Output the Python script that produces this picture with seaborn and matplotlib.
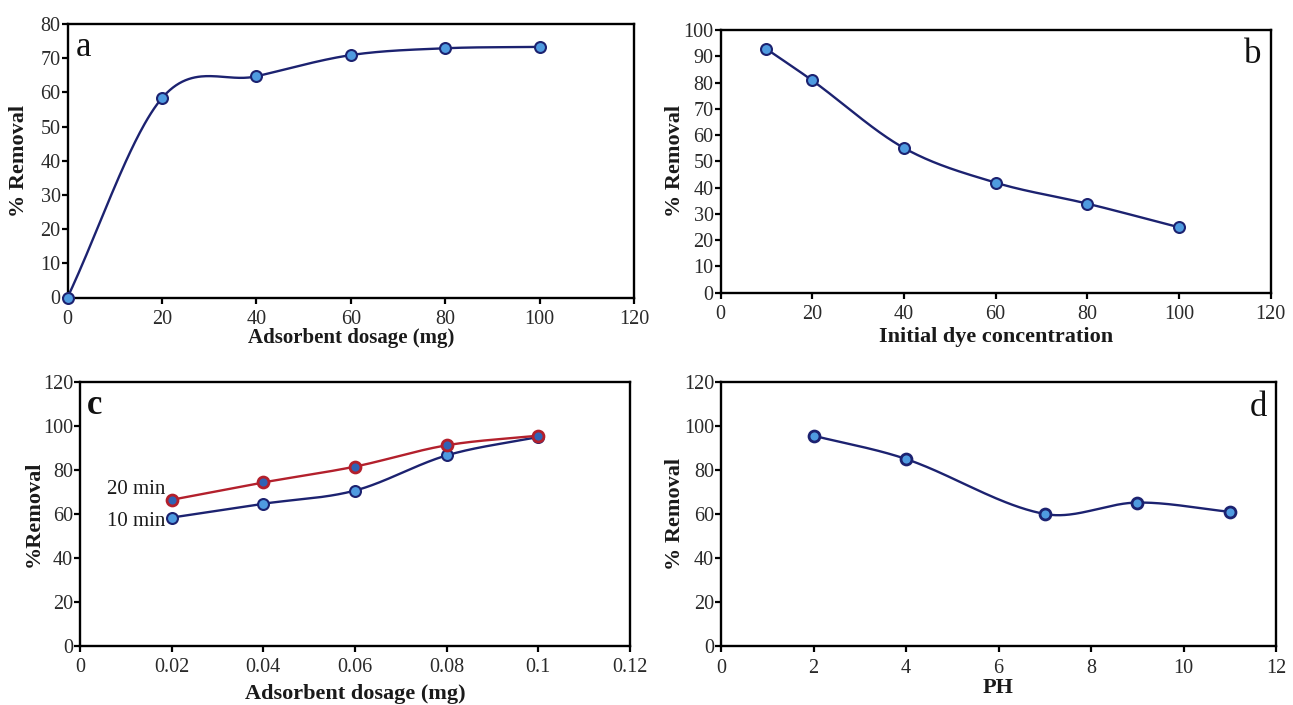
import numpy as np
import pandas as pd
import matplotlib
matplotlib.use("Agg")
import matplotlib.pyplot as plt
import matplotlib.transforms as mtrans
import seaborn as sns

# ---- data ----
a_dose = [0, 20, 40, 60, 80, 100]
a_removal = [0, 58.3, 64.7, 70.9, 72.9, 73.3]

b_conc = [10, 20, 40, 60, 80, 100]
b_removal = [92.8, 80.8, 55.1, 41.9, 33.9, 24.9]

c_dose = [0.02, 0.04, 0.06, 0.08, 0.1]
c_10min = [58.3, 64.6, 70.6, 86.6, 95.0]
c_20min = [66.4, 74.3, 81.5, 91.2, 95.6]

d_ph = [2, 4, 7, 9, 11]
d_removal = [95.6, 85.0, 60.0, 65.2, 61.0]

sns.set_style("ticks")
plt.rcParams['font.family'] = ['Liberation Serif', 'DejaVu Serif']
plt.rcParams['xtick.color'] = 'black'
plt.rcParams['ytick.color'] = 'black'

NAVY = "#1c2270"
RED = "#b3202c"
FILL = "#4f9be0"


def smooth(x, y, n=60):
    """Cardinal Hermite curve through the data points, for display of the smoothed line."""
    x = np.asarray(x, float)
    y = np.asarray(y, float)
    m = np.zeros_like(y)
    m[1:-1] = (y[2:] - y[:-2]) / (x[2:] - x[:-2])
    m[0] = (y[1] - y[0]) / (x[1] - x[0])
    m[-1] = (y[-1] - y[-2]) / (x[-1] - x[-2])
    xs, ys = [], []
    for i in range(len(x) - 1):
        h = x[i + 1] - x[i]
        t = np.linspace(0, 1, n, endpoint=(i == len(x) - 2))
        h00 = 2 * t**3 - 3 * t**2 + 1
        h10 = t**3 - 2 * t**2 + t
        h01 = -2 * t**3 + 3 * t**2
        h11 = t**3 - t**2
        xs.append(x[i] + t * h)
        ys.append(h00 * y[i] + h10 * h * m[i] + h01 * y[i + 1] + h11 * h * m[i + 1])
    return pd.DataFrame({"x": np.concatenate(xs), "y": np.concatenate(ys)})


W, H = 1293, 705
fig = plt.figure(figsize=(W / 100, H / 100), dpi=100)


def ax_px(l, r, t, b):
    return fig.add_axes([l / W, (H - b) / H, (r - l) / W, (b - t) / H])


def style(ax, xlim, xticks, ylim, yticks, xlabel, ylabel, xlab_y, ylab_x,
          xlab_size=16, xticklabels=None):
    ax.set_xlim(*xlim)
    ax.set_ylim(*ylim)
    ax.set_xticks(xticks)
    if xticklabels is not None:
        ax.set_xticklabels(xticklabels)
    ax.set_yticks(yticks)
    for s in ax.spines.values():
        s.set_visible(True)
        s.set_linewidth(1.7)
        s.set_color("black")
    ax.tick_params(axis="both", which="major", direction="out", length=4.2,
                   width=1.6, labelsize=14.5,
                   bottom=True, left=True, top=False, right=False)
    ax.tick_params(axis="x", pad=5.0)
    ax.tick_params(axis="y", pad=0.8)
    for lab in ax.get_xticklabels() + ax.get_yticklabels():
        lab.set_color("#2a2a2a")
    ax.set_xlabel(xlabel, fontsize=xlab_size, fontweight="bold", color="#1a1a1a")
    ax.set_ylabel(ylabel, fontsize=16, fontweight="bold", color="#1a1a1a")
    # place labels at the pixel positions seen in the reference
    xl = ax.xaxis.label
    ax.xaxis.set_label_coords(0.5, 0)
    xl.set_transform(mtrans.blended_transform_factory(
        ax.transAxes, mtrans.IdentityTransform()))
    xl.set_position((0.5, H - xlab_y))
    xl.set_va("center")
    xl.set_ha("center")
    yl = ax.yaxis.label
    ax.yaxis.set_label_coords(0, 0.5)
    yl.set_transform(mtrans.blended_transform_factory(
        mtrans.IdentityTransform(), ax.transAxes))
    yl.set_position((ylab_x, 0.5))
    yl.set_rotation_mode("default")
    yl.set_va("center")
    yl.set_ha("center")


def plot_series(ax, x, y, line_color, edge_color, face_color, ew=1.5):
    sns.lineplot(data=smooth(x, y), x="x", y="y", ax=ax, color=line_color,
                 linewidth=1.7, sort=False, estimator=None, zorder=2)
    sns.scatterplot(x=x, y=y, ax=ax, s=62, color=face_color,
                    edgecolor=edge_color, linewidth=ew, zorder=3, clip_on=False)


def letter(ax, s, left_px, top_px, right=False, bold=False):
    bb = ax.get_position()
    if right:
        x = bb.x1 - left_px / W
        ha = "right"
    else:
        x = bb.x0 + left_px / W
        ha = "left"
    y = bb.y1 - top_px / H
    fig.text(x, y, s, fontsize=25, ha=ha, va="top", color="#111111",
             fontweight="bold" if bold else "normal")


# panel a
ax_a = ax_px(67.5, 634, 24, 297.5)
plot_series(ax_a, a_dose, a_removal, NAVY, NAVY, FILL)
style(ax_a, (0, 120), range(0, 121, 20), (0, 80), range(0, 81, 10),
      "Adsorbent dosage (mg)", "% Removal", xlab_y=338, ylab_x=19,
      xlab_size=15)
letter(ax_a, "a", 8, 7)

# panel b
ax_b = ax_px(720.5, 1270.7, 30, 292.7)
plot_series(ax_b, b_conc, b_removal, NAVY, NAVY, FILL)
style(ax_b, (0, 120), range(0, 121, 20), (0, 100), range(0, 101, 10),
      "Initial dye concentration", "% Removal", xlab_y=337, ylab_x=675)
letter(ax_b, "b", 9, 8, right=True)

# panel c
ax_c = ax_px(80, 630, 382, 645.7)
plot_series(ax_c, c_dose, c_10min, NAVY, NAVY, FILL)
plot_series(ax_c, c_dose, c_20min, RED, RED, "#2f62b5", ew=2.0)
style(ax_c, (0, 0.12), [0, 0.02, 0.04, 0.06, 0.08, 0.1, 0.12],
      (0, 120), range(0, 121, 20), "Adsorbent dosage (mg)", "%Removal",
      xlab_y=694, ylab_x=34,
      xticklabels=["0", "0.02", "0.04", "0.06", "0.08", "0.1", "0.12"])
letter(ax_c, "c", 7, 7, bold=True)
ax_c.annotate("20 min", (c_dose[0], c_20min[0]), xytext=(-4.5, 7.5),
              textcoords="offset points", ha="right", va="center", fontsize=15,
              color="#1a1a1a")
ax_c.annotate("10 min", (c_dose[0], c_10min[0]), xytext=(-4.5, -3),
              textcoords="offset points", ha="right", va="center", fontsize=15,
              color="#1a1a1a")

# panel d
ax_d = ax_px(721, 1276, 382, 646)
plot_series(ax_d, d_ph, d_removal, NAVY, NAVY, FILL, ew=2.0)
style(ax_d, (0, 12), range(0, 13, 2), (0, 120), range(0, 121, 20),
      "PH", "% Removal", xlab_y=688, ylab_x=675)
letter(ax_d, "d", 9, 9, right=True)

fig.savefig("out.png", dpi=100)
